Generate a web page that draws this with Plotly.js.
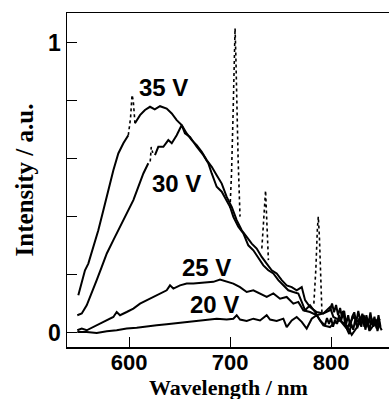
<!DOCTYPE html>
<html>
<head>
<meta charset="utf-8">
<script src="https://cdn.plot.ly/plotly-3.0.1.min.js"></script>
<style>html,body{margin:0;padding:0;background:#fff;}#chart{width:389px;height:399px;}</style>
</head>
<body>
<div id="chart"></div>
<script>
// ---- data ----
const wl35 = [549.8,553.2,556.4,559.7,564.6,569.6,574.6,579.5,584.5,589.4,594.4,599.3,null,605.9,610.9,615.8,620.8,625.5,630.7,637.3,642.3,647.2,652.2,657.1,662.1,667,672,676.9,681.9,686.8,691.8,696.7,701.7,706.6,711.6,716.5,721.5,726.4,731.4,736.3,741.3,746.2,751.2,756.1,761.1,766,771,774.3,779.2,785.8,792.4,799,801,803,805,807,809,811,813,815,817,819,821,823,825,827,829,831,833,835,837,839,841,843,845,847,849];
const int35 = [0.129,0.169,0.215,0.238,0.296,0.353,0.422,0.491,0.560,0.618,0.653,0.681,null,0.722,0.750,0.768,0.779,0.770,0.781,0.773,0.756,0.733,0.716,0.687,0.664,0.647,0.624,0.595,0.572,0.543,0.514,0.468,0.434,0.388,0.353,0.330,0.307,0.290,0.261,0.238,0.215,0.204,0.181,0.163,0.157,0.146,0.157,0.112,0.088,0.071,0.066,0.077,0.100,0.070,0.095,0.060,0.085,0.050,0.075,0.030,0.060,0.020,0.055,0.070,0.035,0.075,0.040,0.065,0.020,0.060,0.030,0.070,0.025,0.055,0.015,0.060,0.020];

const wl30 = [548.8,553.2,558.1,563.1,568,573,578,584.5,589.4,594.4,599.3,604.3,609.2,614.2,619.1,null,625.7,629,634,638.9,642.3,647.2,652.2,655.4,660.4,667,673.6,678.5,681.9,686.8,691.8,696.7,700,703.3,708.2,713.2,718.1,723.1,728,733,737.9,742.9,747.8,752.8,757.7,762.7,767.6,771,774.3,779.2,784.2,789.1,794,796,798,800,802,804,806,808,810,812,814,816,818,820,822,824,826,828,830,832,834,836,838,840,842,844,846,848];
const int30 = [0.060,0.066,0.094,0.135,0.181,0.227,0.273,0.319,0.353,0.388,0.422,0.457,0.503,0.549,0.584,null,0.612,0.641,0.641,0.664,0.653,0.681,0.716,0.687,0.675,0.641,0.612,0.584,0.549,0.503,0.486,0.457,0.434,0.399,0.365,0.342,0.301,0.284,0.256,0.232,0.215,0.204,0.181,0.163,0.146,0.140,0.135,0.106,0.077,0.094,0.071,0.042,0.025,0.050,0.030,0.050,0.020,0.045,0.030,0.060,0.040,0.075,0.030,0.010,-0.005,0.030,0.010,0.045,0.015,0.050,0.020,0.060,0.010,0.040,0.005,0.050,0.020,0.045,0.005,0.035];

const wl25 = [548.8,553.2,558.1,564.6,571.3,578,584.5,587.8,591.1,597.7,604.3,610.9,617.5,624.1,630.7,637.3,640.6,643.9,650.5,657.1,663.7,670.3,676.9,683.5,690.1,696.7,703.3,709.9,716.5,723.1,729.7,736.3,742.9,749.5,756.1,762.7,767.6,772.6,779.2,785.8,792.4,799,802.3,808.9,815.5,822.1,828.7,835.3,841.9,848.5];
const int25 = [0.008,0.014,0.008,0.019,0.031,0.042,0.054,0.071,0.060,0.071,0.083,0.100,0.112,0.123,0.135,0.146,0.163,0.152,0.163,0.169,0.169,0.171,0.175,0.175,0.183,0.175,0.169,0.157,0.140,0.146,0.135,0.123,0.135,0.117,0.123,0.100,0.106,0.077,0.071,0.060,0.066,0.088,0.054,0.042,0.014,0.054,0.031,0.048,0.025,0.048];

const wl20 = [548.8,558.1,568,578,587.8,597.7,607.6,617.5,627.4,637.3,647.2,657.1,667,676.9,686.8,696.7,703.3,706.6,709.9,716.5,723.1,729.7,736.3,739.6,746.2,752.8,756.1,761.1,766,771,775.9,780.9,785.8,792.4,799,802.3,808.9,815.5,820.5,827.1,832.1,838.6,845.3,850.2];
const int20 = [0.002,0.002,-0.001,0.005,0.008,0.014,0.017,0.022,0.025,0.029,0.033,0.037,0.042,0.046,0.048,0.045,0.048,0.060,0.045,0.040,0.048,0.042,0.060,0.045,0.040,0.048,0.019,0.042,0.054,0.037,0.014,0.048,0.060,0.025,0.019,0.031,0.042,0.025,-0.008,0.025,0.060,0.008,0.042,0.008];

// atomic line spikes drawn dotted
const spikeWl = [599.3,601.5,603,604.2,605.9,null,621,622,623.5,null,700,701.5,703,704.3,705,705.8,706.6,708,709.9,null,731.5,733,734.5,735.2,736,737,738,null,783,785,786.5,787.4,788.5,790,791];
const spikeInt = [0.681,0.74,0.82,0.80,0.722,null,0.59,0.64,0.62,null,0.43,0.55,0.75,0.95,1.05,0.95,0.78,0.60,0.40,null,0.29,0.38,0.47,0.49,0.42,0.33,0.25,null,0.10,0.22,0.36,0.40,0.33,0.18,0.07];

const seriesLabels = ['35 V','30 V','25 V','20 V'];
const labelWl = [633.7,647.5,677.2,684.2];
const labelInt = [0.847,0.516,0.225,0.098];

const xTickVals = [600,700,800];
const yTickVals = [0,0.2,0.4,0.6,0.8,1];
const yTickText = ['0','','','','','1'];
const xTitle = 'Wavelength / nm';
const yTitle = 'Intensity / a.u.';

// ---- chart ----
const solid = {color:'#000', width:2};
const traces = [
  {x:wl35, y:int35, name:'35 V', mode:'lines', line:solid, connectgaps:false},
  {x:wl30, y:int30, name:'30 V', mode:'lines', line:solid, connectgaps:false},
  {x:wl25, y:int25, name:'25 V', mode:'lines', line:solid},
  {x:wl20, y:int20, name:'20 V', mode:'lines', line:solid},
  {x:spikeWl, y:spikeInt, name:'lines', mode:'lines', line:{color:'#000', width:1.6, dash:'dot'}, connectgaps:false}
];

const annotations = seriesLabels.map((t,i)=>({
  x: labelWl[i], y: labelInt[i], xref:'x', yref:'y', text:t, showarrow:false,
  font:{family:'Liberation Sans, Arial, sans-serif', size:24, color:'#000', weight:700}
}));
// x-axis title placed as an annotation so it can sit at the bottom edge like the scan
annotations.push({
  x:0.5, y:-0.1205, xref:'paper', yref:'paper', xanchor:'center', yanchor:'middle',
  text:xTitle, showarrow:false,
  font:{family:'Liberation Serif, Times New Roman, serif', size:22, color:'#000', weight:700}
});

const layout = {
  width:389, height:399,
  margin:{l:67, r:0, t:13, b:52},
  paper_bgcolor:'#fff', plot_bgcolor:'#fff',
  showlegend:false,
  xaxis:{
    range:[538.6,857.4], showline:true, linecolor:'#000', linewidth:1.5, mirror:true,
    ticks:'inside', ticklen:10, tickwidth:1, tickcolor:'#000',
    tickvals:xTickVals, showgrid:false, zeroline:false,
    ticklabelstandoff:-5,
    tickfont:{family:'Liberation Sans, Arial, sans-serif', size:22, color:'#000', weight:700}
  },
  yaxis:{
    range:[-0.0497,1.1025], showline:true, linecolor:'#000', linewidth:1.5, mirror:false,
    ticks:'inside', ticklen:10, tickwidth:1, tickcolor:'#000',
    tickvals:yTickVals, ticktext:yTickText, showgrid:false, zeroline:false,
    ticklabelstandoff:0,
    tickfont:{family:'Liberation Sans, Arial, sans-serif', size:23, color:'#000', weight:700},
    title:{text:yTitle, standoff:7, font:{family:'Liberation Serif, Times New Roman, serif', size:25, color:'#000', weight:700}}
  },
  annotations: annotations
};

Plotly.newPlot('chart', traces, layout, {displayModeBar:false, staticPlot:true});
</script>
</body>
</html>
